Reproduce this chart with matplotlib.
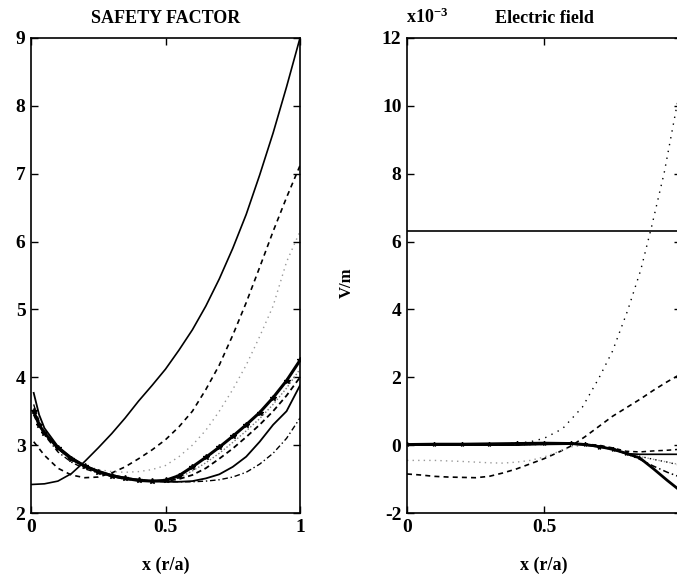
import matplotlib
matplotlib.use("Agg")
import matplotlib.pyplot as plt

plt.rcParams['font.family'] = ['Liberation Serif', 'DejaVu Serif']
plt.rcParams['font.weight'] = 'bold'
plt.rcParams['mathtext.fontset'] = 'custom'
plt.rcParams['mathtext.rm'] = 'Liberation Serif:bold'
plt.rcParams['mathtext.it'] = 'Liberation Serif:bold'

# ---- safety factor q(x) ----
xa = [0, 0.05, 0.1, 0.15, 0.2, 0.25, 0.3, 0.35, 0.4, 0.45, 0.5, 0.55, 0.6, 0.65, 0.7, 0.75, 0.8, 0.85, 0.9, 0.95, 1.0]
q_solid_a = [2.42, 2.43, 2.47, 2.58, 2.76, 2.96, 3.17, 3.40, 3.65, 3.88, 4.12, 4.40, 4.70, 5.05, 5.45, 5.90, 6.40, 6.98, 7.60, 8.28, 9.00]

xb = [0.01, 0.05, 0.1, 0.15, 0.2, 0.25, 0.3, 0.35, 0.4, 0.45, 0.5, 0.55, 0.6, 0.65, 0.7, 0.75, 0.8, 0.85, 0.9, 0.95, 1.0]
q_dash_b = [3.05, 2.85, 2.66, 2.56, 2.52, 2.53, 2.59, 2.68, 2.80, 2.93, 3.08, 3.27, 3.50, 3.82, 4.18, 4.62, 5.10, 5.62, 6.15, 6.65, 7.12]
q_dot_c = [3.55, 3.20, 2.95, 2.80, 2.70, 2.64, 2.61, 2.60, 2.61, 2.64, 2.70, 2.83, 3.00, 3.22, 3.50, 3.82, 4.18, 4.60, 5.05, 5.70, 6.15]

xd = [0.01, 0.03, 0.05, 0.1, 0.15, 0.2, 0.25, 0.3, 0.35, 0.4, 0.45, 0.5, 0.55, 0.6, 0.65, 0.7, 0.75, 0.8, 0.85, 0.9, 0.95, 1.0]
q_thick_d = [3.50, 3.30, 3.18, 2.96, 2.80, 2.69, 2.61, 2.55, 2.51, 2.48, 2.47, 2.48, 2.55, 2.68, 2.82, 2.97, 3.13, 3.30, 3.48, 3.70, 3.95, 4.25]
q_dash_e = [3.45, 3.28, 3.16, 2.95, 2.79, 2.68, 2.60, 2.54, 2.50, 2.48, 2.47, 2.47, 2.50, 2.56, 2.66, 2.80, 2.95, 3.12, 3.30, 3.50, 3.73, 4.00]
q_solid_f = [3.77, 3.45, 3.25, 2.98, 2.82, 2.70, 2.62, 2.56, 2.52, 2.49, 2.47, 2.46, 2.46, 2.47, 2.51, 2.57, 2.68, 2.83, 3.05, 3.30, 3.50, 3.88]
q_dashdot_g = [3.60, 3.35, 3.15, 2.90, 2.75, 2.65, 2.59, 2.55, 2.52, 2.49, 2.47, 2.46, 2.46, 2.46, 2.47, 2.49, 2.53, 2.60, 2.72, 2.88, 3.10, 3.40]
q_dot_h = [3.48, 3.29, 3.17, 2.96, 2.80, 2.69, 2.61, 2.55, 2.51, 2.48, 2.47, 2.47, 2.52, 2.62, 2.74, 2.88, 3.04, 3.21, 3.39, 3.60, 3.84, 4.12]

# ---- electric field (units of 1e-3 V/m) ----
e_flat_x = [0, 1]
e_flat = [6.3, 6.3]

xp = [0, 0.1, 0.2, 0.3, 0.4, 0.45, 0.5, 0.567, 0.64, 0.70, 0.75, 0.805, 0.853, 0.893, 0.939, 0.982, 1.0]
e_dot_p = [0.0, 0.0, 0.0, 0.02, 0.06, 0.1, 0.2, 0.48, 1.12, 1.97, 2.77, 3.96, 5.16, 6.45, 8.04, 9.88, 10.6]

xq = [0, 0.05, 0.1, 0.15, 0.2, 0.25, 0.3, 0.35, 0.4, 0.45, 0.5, 0.55, 0.6, 0.65, 0.7, 0.75, 0.8, 0.85, 0.9, 0.95, 1.0]
e_dash_q = [-0.85, -0.88, -0.92, -0.94, -0.95, -0.96, -0.92, -0.82, -0.70, -0.55, -0.40, -0.22, -0.02, 0.25, 0.55, 0.85, 1.10, 1.35, 1.62, 1.87, 2.10]

xr = [0, 0.1, 0.2, 0.3, 0.35, 0.4, 0.45, 0.5, 0.55, 0.6, 0.65, 0.7, 0.8, 0.9, 1.0]
e_dot_r = [-0.45, -0.45, -0.48, -0.52, -0.53, -0.50, -0.45, -0.35, -0.20, -0.05, 0.0, -0.05, -0.25, -0.42, -0.58]

xs = [0, 0.1, 0.2, 0.3, 0.4, 0.5, 0.6, 0.65, 0.7, 0.75, 0.8, 0.85, 0.9, 0.95, 1.0]
e_thick_s1 = [0.02, 0.03, 0.03, 0.04, 0.05, 0.06, 0.05, 0.02, -0.04, -0.12, -0.24, -0.38, -0.70, -1.04, -1.36]
e_solid_s2 = [0.0, 0.0, 0.0, 0.0, 0.0, 0.02, 0.03, 0.0, -0.05, -0.12, -0.25, -0.27, -0.27, -0.27, -0.27]
e_dash_t1 = [0.0, 0.0, 0.0, 0.0, 0.02, 0.03, 0.05, 0.03, 0.0, -0.08, -0.18, -0.20, -0.17, -0.15, -0.12]
e_dash_t2 = [0.0, 0.0, 0.0, 0.0, 0.02, 0.03, 0.05, 0.02, -0.02, -0.10, -0.25, -0.42, -0.62, -0.80, -0.95]
e_dot_u = [0.0, 0.0, 0.0, 0.0, 0.01, 0.02, 0.04, 0.02, -0.03, -0.12, -0.25, -0.33, -0.42, -0.50, -0.60]

q_ticks = [2, 3, 4, 5, 6, 7, 8, 9]
e_ticks = [-2, 0, 2, 4, 6, 8, 10, 12]

fig = plt.figure(figsize=(6.77, 5.85), dpi=100)
ax1 = fig.add_axes([31 / 677, 72 / 585, 269 / 677, 475 / 585])
ax2 = fig.add_axes([407 / 677, 72 / 585, 274 / 677, 475 / 585])

# safety factor panel
ax1.plot(xa, q_solid_a, color='black', lw=1.2)
ax1.plot(xb, q_dash_b, color='black', lw=1.2, ls=(0, (3, 2.5)))
ax1.plot(xb, q_dot_c, color='#999999', lw=1.0, ls=(0, (1, 3)))
ax1.plot(xd, q_dot_h, color='#777777', lw=1.0, ls=(0, (1, 1.5)))
ax1.plot(xd, q_dashdot_g, color='black', lw=1.0, ls=(0, (4, 2, 1, 2)))
ax1.plot(xd, q_solid_f, color='black', lw=1.3)
ax1.plot(xd, q_dash_e, color='black', lw=1.3, ls=(0, (3, 2)))
ax1.plot(xd, q_thick_d, color='black', lw=2.2, marker='*', ms=4)
ax1.set_xlim(0, 1)
ax1.set_ylim(2, 9)
ax1.set_xticks([0, 0.5, 1])
ax1.set_xticklabels(['0', '0.5', '1'])
ax1.set_yticks(q_ticks)
ax1.set_yticklabels([str(t) for t in q_ticks])
ax1.set_title('SAFETY FACTOR', fontsize=13, fontweight='bold', pad=11)
ax1.set_xlabel('x (r/a)', fontsize=13, fontweight='bold', labelpad=15)

# electric field panel
ax2.plot(e_flat_x, e_flat, color='black', lw=1.2)
ax2.plot(xp, e_dot_p, color='black', lw=1.0, ls=(0, (1, 4)))
ax2.plot(xq, e_dash_q, color='black', lw=1.2, ls=(0, (3, 2.5)))
ax2.plot(xr, e_dot_r, color='#999999', lw=1.0, ls=(0, (1, 3)))
ax2.plot(xs, e_dot_u, color='black', lw=1.0, ls=(0, (1, 3)))
ax2.plot(xs, e_dash_t1, color='black', lw=1.1, ls=(0, (3, 2.5)))
ax2.plot(xs, e_dash_t2, color='black', lw=1.1, ls=(0, (4, 2, 1, 2)))
ax2.plot(xs, e_solid_s2, color='black', lw=1.2)
ax2.plot(xs, e_thick_s1, color='black', lw=2.0, marker='*', ms=3, markevery=slice(0, 11))
ax2.set_xlim(0, 1)
ax2.set_ylim(-2, 12)
ax2.set_xticks([0, 0.5, 1])
ax2.set_xticklabels(['0', '0.5', ''])
ax2.set_yticks(e_ticks)
ax2.set_yticklabels([str(t) for t in e_ticks])
ax2.set_title('Electric field', fontsize=13, fontweight='bold', pad=11)
ax2.set_xlabel('x (r/a)', fontsize=13, fontweight='bold', labelpad=15)
ax2.text(-0.005, 1.032, 'x10$^{-3}$', transform=ax2.transAxes, fontsize=13,
         fontweight='bold', ha='left', va='baseline')
fig.text(347 / 677, 1 - 283 / 585, 'V/m', rotation=90, fontsize=12,
         fontweight='bold', ha='center', va='center')

for ax in (ax1, ax2):
    ax.tick_params(direction='in', top=True, right=True, length=5, width=1,
                   labelsize=14, pad=4)
    for lab in ax.get_xticklabels() + ax.get_yticklabels():
        lab.set_fontweight('bold')
    for sp in ax.spines.values():
        sp.set_linewidth(1.2)

fig.savefig('out.png', dpi=100)
